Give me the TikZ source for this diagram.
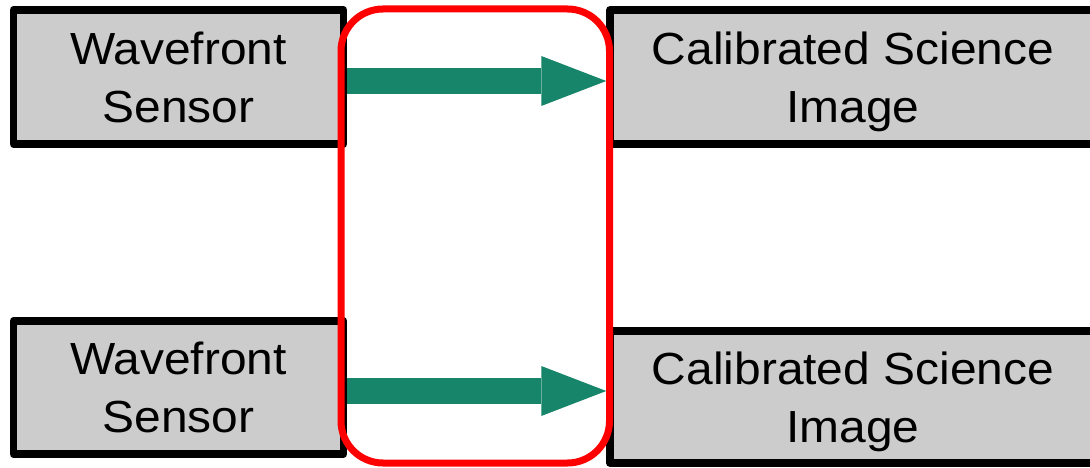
\documentclass[tikz,border=0pt]{standalone}
\usepackage{fontspec}
\setmainfont{Liberation Sans}[FakeStretch=1.065]
\usetikzlibrary{arrows.meta,calc}
\definecolor{cbox}{HTML}{CCCCCC}
\definecolor{cflow}{HTML}{178569}
\definecolor{cloop}{HTML}{FF0000}
\tikzset{
  every picture/.style={x=1pt, y=-1pt},
  blk/.style={draw=black, fill=cbox, line width=7.5pt, line join=round,
    align=center, inner sep=0pt, text depth=0pt,
    font=\fontsize{45}{58}\selectfont},
  flow/.style={cflow, line width=26pt,
    -{Triangle[length=65pt, width=50pt, line width=0pt]}},
}

\begin{document}
\begin{tikzpicture}
  \useasboundingbox (0,0) rectangle (1090,468);
  % sensors on the left, science frames on the right
  \node[blk, minimum width=330pt, minimum height=134pt] (wfs1) at (178.5,77) {Wavefront\\Sensor};
  \node[blk, minimum width=330pt, minimum height=133pt] (wfs2) at (178.5,387.5) {Wavefront\\Sensor};
  \node[blk, minimum width=486pt, minimum height=134pt] (sci1) at (853,77) {Calibrated Science\\Image};
  \node[blk, minimum width=486pt, minimum height=132pt] (sci2) at (853,397) {Calibrated Science\\Image};
  \draw[flow] ($(wfs1.east)+(0,4)$) -- ($(wfs1.east -| sci1.west)+(0,4)$);
  \draw[flow] ($(wfs2.east)+(0,3.5)$) -- ($(wfs2.east -| sci2.west)+(0,3.5)$);
  % loop round both links
  \draw[cloop, line width=7pt, rounded corners=42pt] (341,9) rectangle (609.5,463);
\end{tikzpicture}
\end{document}
